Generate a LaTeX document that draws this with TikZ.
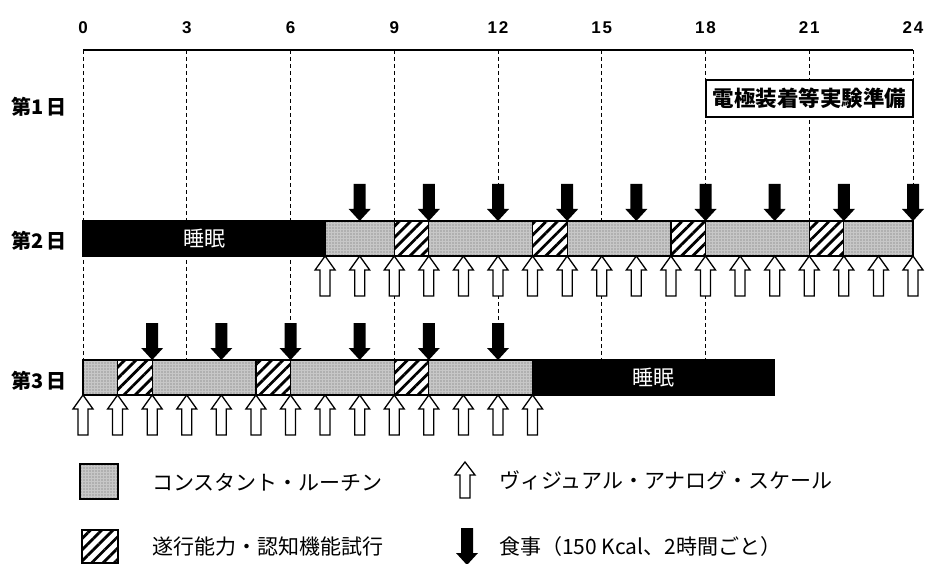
\documentclass[tikz,border=0pt]{standalone}
\usepackage{fontspec}
\setmainfont{Liberation Sans}
\newfontfamily\cjk{Noto Sans CJK JP}
\usetikzlibrary{patterns.meta}
\newcommand{\twodig}[2]{#1\kern1.8pt#2}
\tikzset{
  grid/.style={line width=0.9pt, dash pattern=on 4pt off 3pt},
  tick/.style={font=\fontsize{17}{19}\selectfont\bfseries, inner sep=0pt},
  daylab/.style={font=\fontsize{20}{22}\selectfont\cjk\bfseries, inner sep=0pt},
  const/.style={draw, line width=1.2pt, preaction={fill=black!22}, pattern={Dots[distance=3pt,radius=0.6pt]}, pattern color=black!60},
  hatch/.style={draw, line width=1.2pt, preaction={fill=white}, pattern={Lines[angle=45,distance=8pt,line width=2.8pt]}, pattern color=black},
  sleep/.style={draw, line width=1.2pt, fill=black},
  sleeptxt/.style={text=white, font=\fontsize{21}{23}\selectfont\cjk, inner sep=0pt},
  legtxt/.style={font=\fontsize{21}{23}\selectfont\cjk, inner sep=0pt, anchor=west},
  vas/.pic={\draw[fill=white, line width=1.3pt, line join=miter] (0,0) -- (10,14) -- (5,14) -- (5,40) -- (-5,40) -- (-5,14) -- (-10,14) -- cycle;},
  vass/.pic={\draw[fill=white, line width=1.3pt, line join=miter] (0,0) -- (10,13) -- (5,13) -- (5,36) -- (-5,36) -- (-5,13) -- (-10,13) -- cycle;},
  meal/.pic={\fill (0,0) -- (11,-12) -- (6,-12) -- (6,-37) -- (-6,-37) -- (-6,-12) -- (-11,-12) -- cycle;}
}
\begin{document}
\begin{tikzpicture}[x=1pt,y=-1pt]
\useasboundingbox (0,0) rectangle (927,564);
% axis
\coordinate (a0) at (83,50);
\coordinate (a24) at (913,50);
\draw[line width=2pt] (a0) -- (a24);
\foreach \h/\t in {0/0,3/3,6/6,9/9,12/\twodig12,15/\twodig15,18/\twodig18,21/\twodig21,24/\twodig24} {\node[tick] (t\h) at ({83+34.5833*\h},28) {\t};}
% grid lines
\foreach \h in {0,3,...,18} {\draw[grid] ({83+34.5833*\h},50) -- ({83+34.5833*\h},360);}
\foreach \h in {21,24} {\draw[grid] ({83+34.5833*\h},50) -- ({83+34.5833*\h},221);}
% day labels
\node[daylab] (d1) at (39,107) {第1\,日};
\node[daylab] (d2) at (39,241) {第2\,日};
\node[daylab] (d3) at (39,381) {第3\,日};
% day 1 box
\node[draw, fill=white, line width=1.2pt, minimum width=207pt, minimum height=37pt, inner sep=0pt,
      font=\fontsize{21.5}{23}\selectfont\cjk\bfseries] (prep) at (809.5,98.5) {電極装着等実験準備};
% day 2 bar
\foreach \a/\b/\s in {0/7/sleep,7/9/const,9/10/hatch,10/13/const,13/14/hatch,14/17/const,17/18/hatch,18/21/const,21/22/hatch,22/24/const}
  {\path[\s] ({83+34.5833*\a},221) rectangle ({83+34.5833*\b},256);}
\node[sleeptxt] (s2) at ({83+34.5833*3.5},239) {睡眠};
% day 3 bar
\foreach \a/\b/\s in {0/1/const,1/2/hatch,2/5/const,5/6/hatch,6/9/const,9/10/hatch,10/13/const,13/20/sleep}
  {\path[\s] ({83+34.5833*\a},360) rectangle ({83+34.5833*\b},395);}
\node[sleeptxt] (s3) at ({83+34.5833*16.5},378) {睡眠};
% day 2 arrows
\foreach \h in {8,10,...,24} {\pic (m2\h) at ({83+34.5833*\h},221) {meal};}
\foreach \h in {7,...,24} {\pic (v2\h) at ({83+34.5833*\h},256) {vas};}
% day 3 arrows
\foreach \h in {2,4,...,12} {\pic (m3\h) at ({83+34.5833*\h},360) {meal};}
\foreach \h in {0,...,13} {\pic (v3\h) at ({83+34.5833*\h},395) {vas};}
% legend
\path[const] (80,464) rectangle (118,499);
\path[hatch] (82,530) rectangle (118,563);
\node[legtxt] (l1) at (152,482) {コンスタント・ルーチン};
\node[legtxt] (l2) at (152,547) {遂行能力・認知機能試行};
\pic (lv) at (465,462) {vass};
\pic (lm) at (467,565) {meal};
\node[legtxt] (l3) at (499,480) {ヴィジュアル・アナログ・スケール};
\node[legtxt] (l4) at (499,547) {食事（150 Kcal、2時間ごと）};
\end{tikzpicture}
\end{document}
